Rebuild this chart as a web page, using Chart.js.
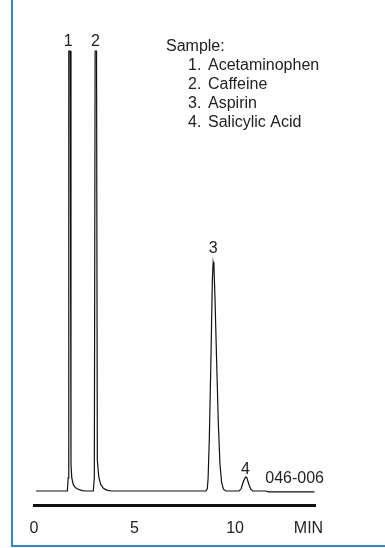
<!DOCTYPE html>
<html>
<head>
<meta charset="utf-8">
<script src="https://cdn.jsdelivr.net/npm/chart.js@4.4.1/dist/chart.umd.min.js"></script>
<style>
  html, body { margin: 0; padding: 0; background: #fff; overflow: hidden; }
  #wrap { position: relative; width: 385px; height: 548px; overflow: hidden; }
  #frame {
    position: absolute; left: 11px; top: 0; width: 372px; height: 545px;
    border-left: 2px solid #3588c5; border-bottom: 2px solid #3588c5;
    pointer-events: none;
  }
</style>
</head>
<body>
<div id="wrap">
  <canvas id="c" width="385" height="548"></canvas>
  <div id="frame"></div>
</div>
<script>
// Retention time (min) and detector response of the trace
const times = [
  0.10, 1.66, 1.70, 1.73, 1.80, 1.84, 1.88, 1.95, 2.05, 2.20, 2.40, 2.60,
  2.95, 3.00, 3.04, 3.11, 3.15, 3.22, 3.32, 3.45, 3.62, 3.85,
  8.55, 8.62, 8.66, 8.72, 8.80, 8.87, 8.91, 8.95, 9.00, 9.08, 9.17, 9.25, 9.33, 9.42, 9.55,
  10.20, 10.30, 10.42, 10.52, 10.58, 10.68, 10.78, 10.88,
  11.55, 11.65, 13.95
];
const signal = [
  0, 0, 3, 100, 100, 6, 3, 1.5, 0.8, 0.4, 0.1, 0,
  0, 3, 100, 100, 7, 3.2, 1.5, 0.6, 0.2, 0,
  0, 0.5, 3, 12, 30, 48, 52, 51, 44, 30, 15, 6, 2, 0.4, 0,
  0, 0.5, 2.2, 3.2, 3.1, 1.6, 0.4, 0,
  0, -0.2, -0.2
];

// Peak annotations
const peakNumbers = ['1', '2', '3', '4'];
const peakTimes = [1.70, 3.06, 8.91, 10.52];

// Sample components
const sampleTitle = 'Sample:';
const compounds = ['Acetaminophen', 'Caffeine', 'Aspirin', 'Salicylic Acid'];

// Axis ticks
const tickValues = [0, 5, 10, 13.65];
const tickLabels = ['0', '5', '10', 'MIN'];

const runCode = '046-006';

const FONT = '"Liberation Sans", Arial, sans-serif';
const TEXT = '#222';
// gap between each peak apex and its number, px
const LABEL_GAP = [5, 5, 9, 3];

const points = times.map((t, i) => ({ x: t, y: signal[i] }));

const annotate = {
  id: 'annotate',
  afterDatasetsDraw(chart) {
    const { ctx } = chart;
    const xs = chart.scales.x, ys = chart.scales.y;
    ctx.save();
    ctx.fillStyle = TEXT;
    ctx.font = '16px ' + FONT;
    ctx.textAlign = 'center';
    ctx.textBaseline = 'alphabetic';
    peakNumbers.forEach((lab, i) => {
      // apex of the trace near the peak time
      let top = 0;
      times.forEach((t, j) => { if (Math.abs(t - peakTimes[i]) < 0.3) top = Math.max(top, signal[j]); });
      const px = xs.getPixelForValue(peakTimes[i]);
      const py = ys.getPixelForValue(top) - LABEL_GAP[i];
      ctx.fillText(lab, px, py);
    });

    // sample list
    ctx.textAlign = 'left';
    ctx.fillText(sampleTitle, 166, 51);
    compounds.forEach((name, i) => {
      const y = 70 + i * 19;
      ctx.fillText((i + 1) + '.', 188, y);
      ctx.fillText(name, 208, y);
    });

    // run code next to the baseline
    ctx.fillText(runCode, xs.getPixelForValue(11.5), ys.getPixelForValue(0) - 8);
    ctx.restore();
  }
};

new Chart(document.getElementById('c'), {
  type: 'line',
  data: {
    datasets: [{
      data: points,
      borderColor: '#111',
      borderWidth: 1.2,
      pointRadius: 0,
      tension: 0,
      fill: false
    }]
  },
  options: {
    responsive: false,
    animation: false,
    events: [],
    layout: { padding: { left: 34, right: 69.5, top: 20, bottom: 0 } },
    plugins: { legend: { display: false }, tooltip: { enabled: false } },
    scales: {
      x: {
        type: 'linear',
        min: 0,
        max: 14,
        grid: { display: false, drawTicks: false },
        border: { display: true, color: '#111', width: 3 },
        afterBuildTicks(scale) { scale.ticks = tickValues.map(v => ({ value: v })); },
        afterFit(scale) { scale.height = 43; },
        ticks: {
          padding: 14,
          color: TEXT,
          font: { family: FONT, size: 16 },
          maxRotation: 0,
          autoSkip: false,
          callback(v) { const i = tickValues.indexOf(v); return i >= 0 ? tickLabels[i] : ''; }
        }
      },
      y: {
        display: false,
        min: -3.18,
        max: 107.05
      }
    }
  },
  plugins: [annotate]
});
</script>
</body>
</html>
